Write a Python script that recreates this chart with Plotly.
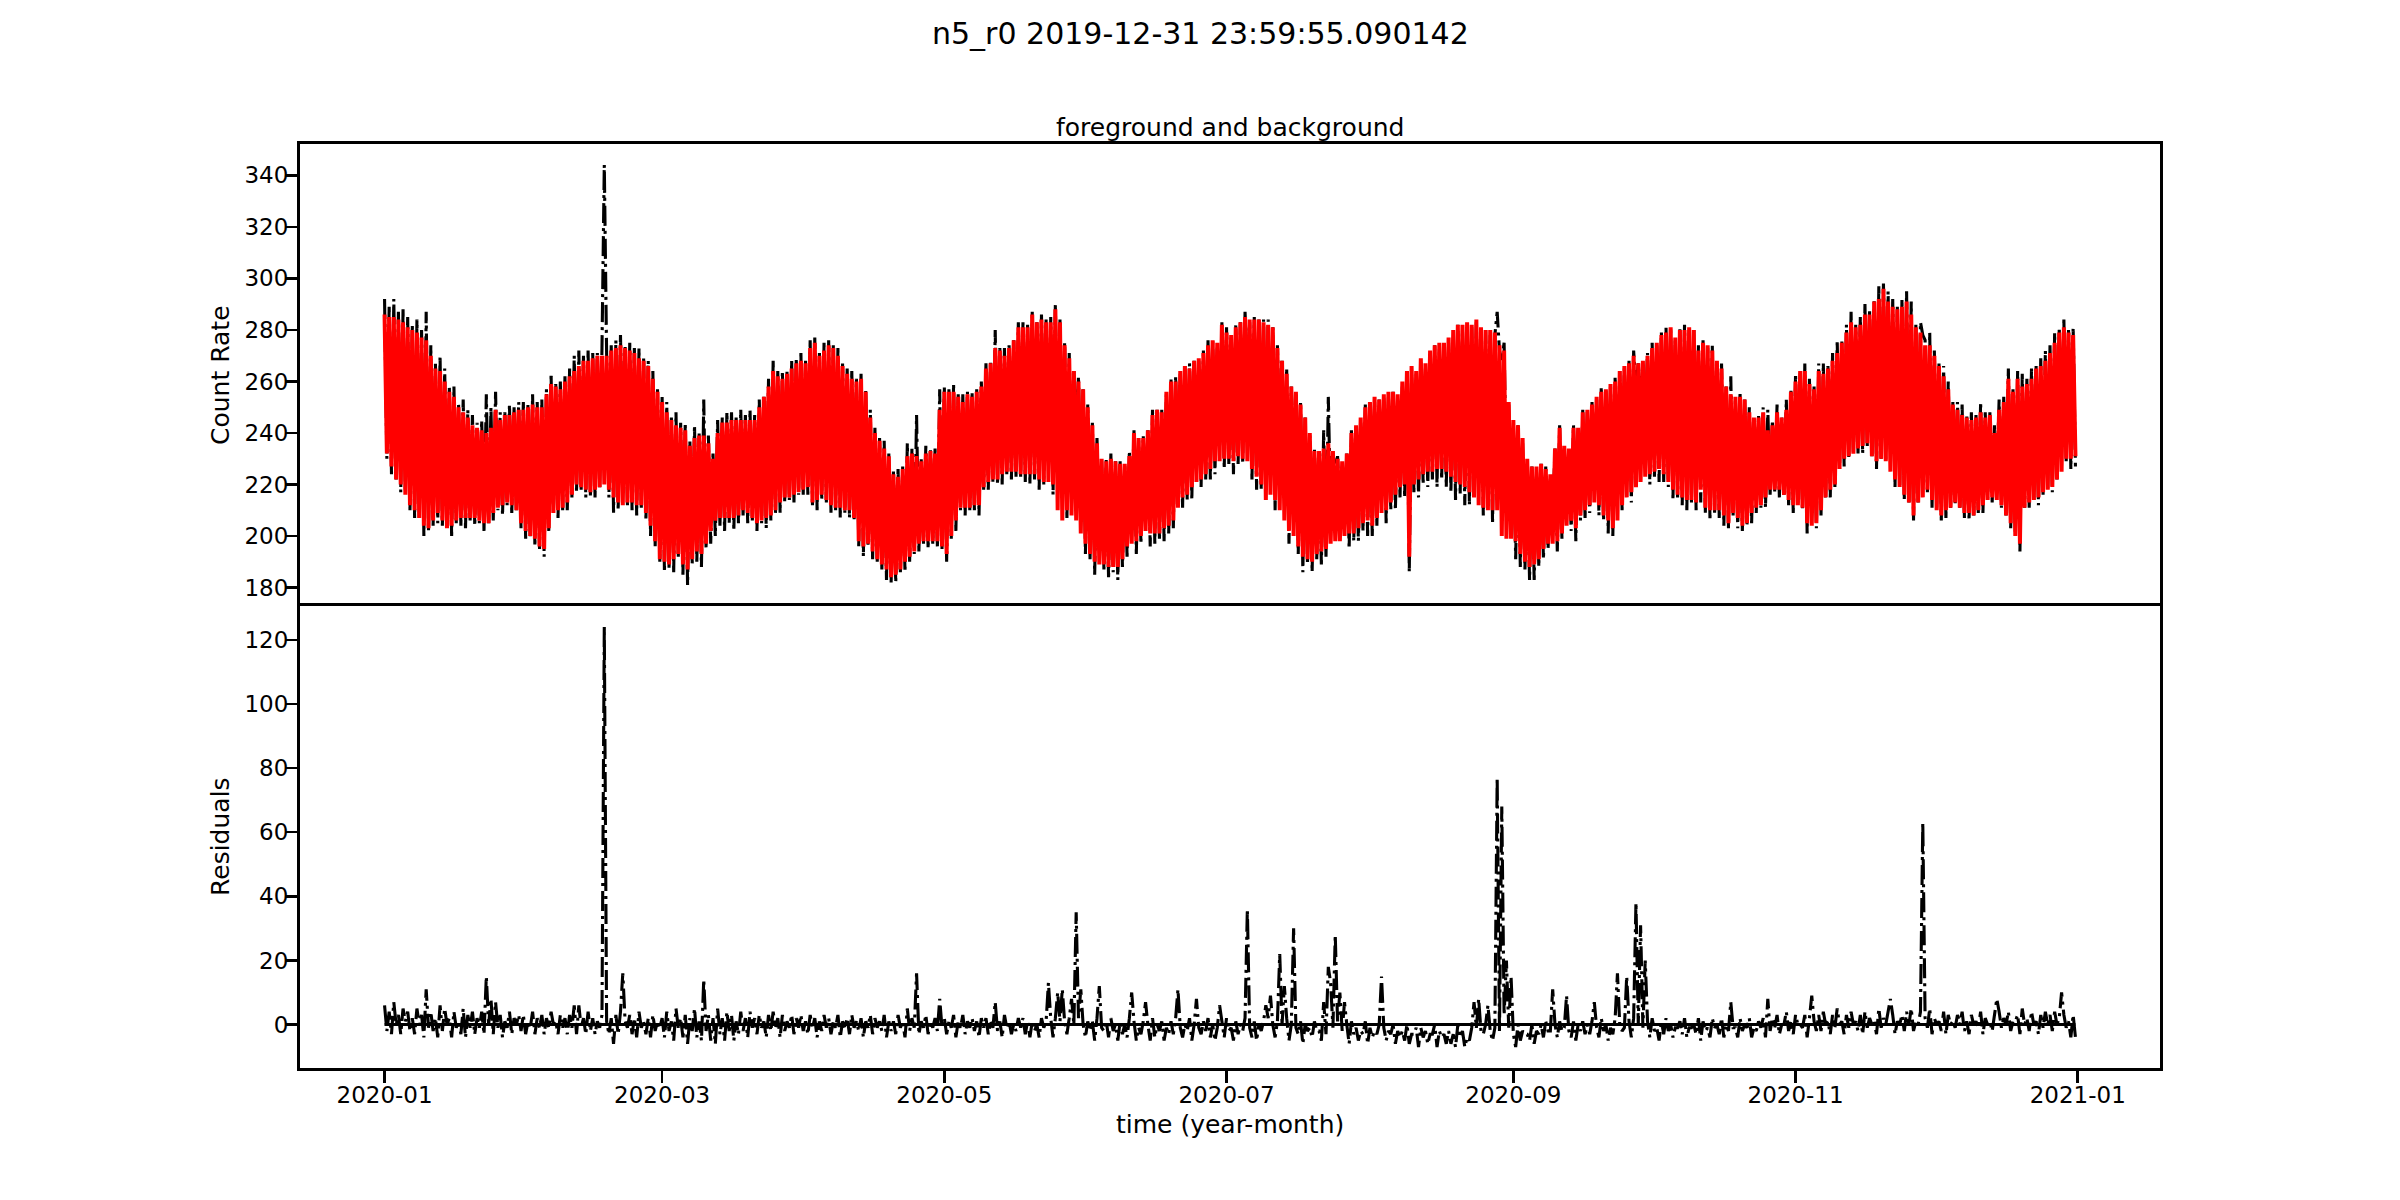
import pandas as pd
import plotly.graph_objects as go

# ---------------- data ----------------
START = "2019-12-31 23:59:55.090142"
SUPTITLE = "n5_r0 2019-12-31 23:59:55.090142"

# background model (red): daily upper and lower swing values, day 0..365
MODEL_HIGH = [
    286, 285, 285, 284, 283, 281, 280, 279, 277, 276,
    270, 265, 264, 260, 256, 254, 250, 248, 246, 243,
    242, 241, 240, 242, 249, 245, 247, 247, 248, 249,
    249, 250, 251, 250, 250, 255, 259, 258, 257, 260,
    262, 264, 266, 268, 268, 269, 270, 270, 270, 272,
    273, 274, 273, 272, 271, 269, 268, 266, 261, 256,
    252, 248, 245, 243, 242, 241, 235, 238, 239, 239,
    236, 230, 240, 244, 244, 245, 245, 245, 245, 245,
    245, 250, 254, 258, 264, 262, 261, 263, 265, 267,
    268, 267, 273, 275, 270, 272, 274, 273, 270, 266,
    263, 261, 260, 261, 256, 246, 240, 237, 234, 231,
    224, 223, 226, 231, 232, 231, 229, 232, 233, 232,
    249, 256, 256, 256, 254, 252, 255, 254, 256, 258,
    265, 267, 273, 272, 270, 273, 276, 281, 281, 281,
    286, 283, 284, 283, 283, 288, 283, 274, 269, 264,
    260, 257, 250, 243, 236, 230, 229, 230, 229, 228,
    228, 231, 240, 238, 238, 241, 247, 249, 248, 256,
    260, 260, 264, 266, 265, 268, 269, 271, 274, 276,
    275, 282, 279, 278, 281, 283, 285, 284, 284, 284,
    283, 282, 281, 273, 268, 263, 258, 256, 251, 246,
    240, 233, 233, 234, 236, 233, 230, 229, 232, 240,
    243, 246, 250, 252, 254, 253, 255, 256, 256, 255,
    260, 264, 266, 264, 269, 267, 272, 274, 275, 275,
    277, 280, 282, 282, 283, 282, 284, 281, 280, 280,
    279, 274, 272, 252, 245, 243, 238, 230, 227, 227,
    228, 226, 224, 234, 242, 235, 234, 242, 242, 248,
    249, 251, 254, 256, 257, 259, 260, 264, 266, 267,
    270, 267, 268, 270, 273, 275, 278, 279, 281, 277,
    280, 280, 281, 280, 272, 275, 274, 272, 268, 265,
    258, 255, 254, 254, 253, 248, 246, 246, 248, 241,
    243, 248, 246, 249, 256, 260, 264, 264, 259, 257,
    264, 263, 265, 268, 271, 275, 279, 283, 281, 282,
    286, 286, 291, 292, 296, 291, 289, 288, 289, 291,
    286, 281, 279, 274, 274, 270, 266, 262, 257, 251,
    249, 247, 246, 245, 246, 248, 246, 247, 240, 249,
    252, 261, 256, 261, 258, 259, 261, 265, 266, 268,
    271, 275, 279, 281, 279, 278,
]
MODEL_LOW = [
    232, 227, 222, 220, 216, 212, 210, 207, 204, 203,
    206, 209, 206, 203, 204, 206, 207, 207, 207, 207,
    206, 205, 205, 209, 211, 212, 213, 212, 210, 205,
    202, 200, 199, 196, 195, 203, 209, 210, 211, 213,
    216, 220, 219, 218, 217, 218, 219, 220, 218, 215,
    213, 212, 213, 213, 212, 212, 209, 204, 198, 191,
    190, 189, 191, 193, 189, 187, 191, 194, 193, 197,
    202, 206, 207, 207, 207, 207, 208, 210, 209, 207,
    205, 206, 207, 208, 210, 213, 215, 215, 216, 217,
    218, 219, 213, 214, 216, 214, 212, 211, 211, 210,
    210, 207, 198, 196, 197, 194, 191, 189, 187, 184,
    185, 187, 190, 192, 194, 197, 198, 198, 198, 198,
    196, 193, 200, 206, 211, 211, 211, 212, 212, 219,
    221, 222, 222, 224, 225, 225, 225, 224, 224, 224,
    224, 222, 221, 221, 220, 210, 206, 210, 208, 206,
    201, 197, 193, 190, 189, 189, 188, 188, 188, 191,
    196, 197, 198, 200, 202, 201, 201, 201, 203, 204,
    206, 211, 215, 216, 219, 221, 222, 224, 226, 229,
    229, 230, 230, 229, 231, 230, 229, 226, 223, 220,
    214, 216, 214, 210, 206, 202, 200, 196, 192, 191,
    190, 193, 194, 195, 197, 198, 198, 200, 201, 201,
    203, 205, 206, 204, 207, 209, 210, 213, 216, 219,
    220, 192, 220, 222, 224, 225, 225, 226, 226, 225,
    223, 221, 220, 219, 217, 215, 212, 211, 210, 210,
    210, 200, 199, 199, 198, 193, 190, 188, 189, 191,
    195, 197, 197, 198, 201, 204, 206, 203, 208, 210,
    212, 213, 212, 208, 206, 203, 206, 212, 215, 217,
    219, 221, 223, 224, 225, 226, 224, 221, 218, 216,
    215, 214, 214, 213, 218, 211, 210, 210, 210, 208,
    205, 209, 207, 204, 205, 209, 211, 212, 215, 218,
    218, 218, 216, 214, 212, 212, 211, 205, 204, 205,
    210, 215, 218, 220, 226, 230, 231, 232, 234, 235,
    236, 231, 229, 230, 229, 225, 222, 219, 216, 213,
    208, 213, 215, 218, 214, 210, 208, 210, 211, 213,
    211, 209, 209, 208, 210, 212, 214, 215, 214, 212,
    208, 205, 200, 197, 211, 213, 214, 215, 217, 218,
    219, 222, 225, 230, 230, 231,
]
# residuals (data - model) at the upper and lower swing samples
RESID_HIGH = [
    6, 4, 7, 3, 5, 4, 2, 5, 3, 11,
    4, 2, 6, 5, 2, 4, 1, 5, 3, 4,
    2, 4, 15, 8, 7, 3, 1, 4, 2, 3,
    3, 1, 4, 2, 3, 2, 4, 1, 3, 2,
    3, 6, 6, 2, 4, 2, 1, 3, 1, 2,
    3, 4, 1, 3, 2, 4, 1, 2, 3, 1,
    2, 4, 1, 5, 2, 3, 2, 5, 1, 14,
    3, 2, 5, 2, 4, 3, 1, 4, 2, 4,
    2, 3, 1, 3, 4, 2, 3, 1, 3, 2,
    3, 1, 3, 2, 1, 3, 2, 1, 3, 1,
    2, 3, 1, 2, 1, 3, 2, 1, 3, 1,
    1, 3, 1, 5, 2, 16, 1, 3, 1, 2,
    8, 2, 1, 3, 1, 3, 1, 2, 1, 2,
    2, 1, 7, 1, 3, 1, 0, 2, 2, 1,
    1, 0, 2, 1, 2, 2, 1, 1, 2, 0,
    2, 0, 1, 1, 2, -1, 1, 2, 0, 1,
    0, 2, 1, -1, 1, 0, 2, 0, 1, -1,
    1, 2, -1, 0, 2, 0, -1, 1, 2, 0,
    -1, 1, 2, -1, 1, 0, 2, -1, 1, 0,
    1, 2, 0, 1, 0, 2, 0, -1, 1, 0,
    -1, 1, -2, 7, 18, -1, 1, -2, 0, 1,
    -1, -2, 1, -1, -2, 0, -1, -2, 0, -2,
    -2, 0, -3, -1, -1, -2, -3, 0, -2, -3,
    -2, -3, 0, -2, -4, -1, -1, -2, 0, -2,
    -1, -2, 3, -1, -3, 0, -2, -3, 0, -2,
    0, 1, -2, 0, 1, -1, -2, 1, 0, 1,
    0, 1, -1, 2, 0, -1, 2, 0, -1, 1,
    2, 0, -1, 1, 2, -1, 1, 2, 0, -1,
    1, 2, -1, 0, 2, 1, -1, 2, 0, 2,
    0, 7, -1, 2, 0, 2, -1, 1, 2, 8,
    2, 3, 0, 4, 1, 3, 0, 3, 2, 1,
    3, 4, 1, 3, 5, 1, 3, 4, 1, 3,
    4, 2, 1, 5, 2, 4, 3, 1, 3, 4,
    5, 1, 4, 2, 5, 2, 1, 4, 3, 1,
    3, 4, 1, 3, 1, 4, 2, 1, 3, 4,
    2, 4, 1, 3, 5, 2, 4, 1, 3, 4,
    3, 4, 2, 3, 1, 3,
]
RESID_LOW = [
    -2, -3, 0, -3, 1, -2, -3, 0, -4, -1,
    -2, -4, -2, 0, -4, -1, -3, -4, -1, -3,
    -1, -3, 0, -3, -1, -4, -1, -3, 0, -2,
    -3, -1, -3, -1, -3, -1, 0, -3, -1, -3,
    -1, -3, -1, -3, -2, -3, -1, 124, -3, -6,
    -3, 16, -1, -3, -4, -1, -3, -4, -2, -1,
    -4, -2, -5, -1, -4, -6, -2, -4, -5, -2,
    -5, -6, -3, -5, -2, -5, -3, -2, -4, -1,
    -3, -1, -4, -2, -1, -4, -2, -1, -3, -1,
    -2, -3, -1, -4, -2, -1, -3, -1, -4, -1,
    -3, -1, -2, -4, -1, -3, -1, -2, -4, -2,
    -3, -1, -4, -2, -1, -3, -1, -3, -1, -2,
    -1, -3, -1, -4, -1, -3, -1, -2, -4, -1,
    -3, -1, -2, -4, -1, -3, -2, -1, -3, -4,
    -2, -4, -1, 13, -4, 10, 11, -3, 8, 35,
    11, -4, -2, -5, 12, -2, -4, -2, -5, -3,
    -4, 10, -5, -3, 7, -5, -4, -2, -5, -3,
    -3, 11, -4, -2, -5, 8, -3, -2, -4, -5,
    6, -4, -2, -5, -3, -2, 36, -4, -5, -2,
    6, 9, -4, 22, 12, -5, 30, -3, -6, -2,
    -4, -2, -5, -3, 13, 28, 10, 7, -6, -3,
    -5, -3, -6, -4, -3, 15, -5, -3, -6, -4,
    -5, -6, -3, -7, -4, -6, -3, -7, -4, -6,
    -6, -7, -4, -7, -5, 7, 8, -3, 6, -5,
    77, 68, 20, 15, -7, -5, -3, -5, -6, -3,
    -4, -2, 11, -4, -2, 9, -4, -5, -2, -3,
    -3, 7, -4, -2, -5, -3, 16, -2, 15, -4,
    38, 31, 20, -4, -2, -5, -3, -2, -4, -1,
    -3, -4, -1, -3, -5, -2, -4, -1, -3, -4,
    -2, -1, -4, -2, -1, -4, -2, -1, -4, -2,
    -1, -3, 0, -2, -3, 0, -1, -4, 9, -2,
    -2, 0, -3, -1, 0, -3, -1, 0, -2, -3,
    -1, 0, -3, -1, 0, 8, -3, 0, -2, 0,
    -2, 0, 63, -1, -3, 0, -2, -3, 0, -1,
    0, -2, -3, 0, -1, -3, 0, -2, 8, -1,
    0, -2, 1, -3, 0, -2, 0, -3, -1, 0,
    -2, 0, 10, -1, -4, -4,
]

X_TICKS = ["2020-01-01", "2020-03-01", "2020-05-01", "2020-07-01",
           "2020-09-01", "2020-11-01", "2021-01-01"]
X_TICK_TEXT = ["2020-01", "2020-03", "2020-05", "2020-07",
               "2020-09", "2020-11", "2021-01"]
Y1_TICKS = [180, 200, 220, 240, 260, 280, 300, 320, 340]
Y2_TICKS = [0, 20, 40, 60, 80, 100, 120]

# ---------------- assemble series ----------------
n = min(len(MODEL_HIGH), len(MODEL_LOW), len(RESID_HIGH), len(RESID_LOW))
model, resid = [], []
for i in range(n):
    model += [MODEL_HIGH[i], MODEL_LOW[i]]
    resid += [RESID_HIGH[i], RESID_LOW[i]]
data = [m + r for m, r in zip(model, resid)]
zeros = [0] * len(resid)

t0 = pd.Timestamp(START)
times = pd.DatetimeIndex([t0 + pd.Timedelta(hours=12 * k) for k in range(len(model))])
xs = list(times.strftime("%Y-%m-%d %H:%M:%S.%f"))

span = times[-1] - times[0]
xr = [(times[0] - 0.05 * span).strftime("%Y-%m-%d %H:%M:%S.%f"),
      (times[-1] + 0.05 * span).strftime("%Y-%m-%d %H:%M:%S.%f")]


def padded(vals):
    lo, hi = min(vals), max(vals)
    p = 0.05 * (hi - lo)
    return [lo - p, hi + p]


y1r = padded(model + data)
y2r = padded(resid + zeros)

# ---------------- figure ----------------
W, H = 2400, 1200
L, R, T, B = 300, 240, 144, 132
PW, PH = W - L - R, H - T - B
FONT = "DejaVu Sans"
LW = 3.1
SPINE = 2.6
DASHDOT = "20px,5px,3px,5px"

fig = go.Figure()
fig.add_trace(go.Scatter(x=xs, y=data, mode="lines", xaxis="x", yaxis="y",
                         line=dict(color="black", width=LW, dash=DASHDOT),
                         hoverinfo="skip"))
fig.add_trace(go.Scatter(x=xs, y=model, mode="lines", xaxis="x", yaxis="y",
                         line=dict(color="#ff0000", width=4.0),
                         hoverinfo="skip"))
fig.add_trace(go.Scatter(x=xs, y=resid, mode="lines", xaxis="x2", yaxis="y2",
                         line=dict(color="black", width=LW, dash=DASHDOT),
                         hoverinfo="skip"))
fig.add_trace(go.Scatter(x=xs, y=zeros, mode="lines", xaxis="x2", yaxis="y2",
                         line=dict(color="black", width=LW),
                         hoverinfo="skip"))

line_common = dict(showline=True, linecolor="black", linewidth=SPINE,
                   showgrid=False, zeroline=False, automargin=False)
tick_common = dict(tickcolor="black", tickwidth=SPINE, ticklen=12.5, ticks="outside",
                   tickfont=dict(family=FONT, size=23, color="black"))

fig.update_layout(
    width=W, height=H,
    margin=dict(l=L, r=R, t=T, b=B, pad=0),
    paper_bgcolor="white", plot_bgcolor="white",
    showlegend=False, hovermode=False,
    font=dict(family=FONT, color="black"),
    # top panel x-axis: only the top frame line, no ticks (shared x)
    xaxis=dict(domain=[0, 1], anchor="y", type="date", range=xr, side="top",
               mirror=False, showticklabels=False, ticks="", **line_common),
    yaxis=dict(domain=[0.5, 1], anchor="x", range=y1r, tickmode="array",
               tickvals=Y1_TICKS, mirror=True, ticklabelstandoff=-8,
               **line_common, **tick_common),
    xaxis2=dict(domain=[0, 1], anchor="y2", type="date", range=xr, tickmode="array",
                tickvals=X_TICKS, ticktext=X_TICK_TEXT, mirror=True,
                ticklabelstandoff=-8, **line_common, **tick_common),
    yaxis2=dict(domain=[0, 0.5], anchor="x2", range=y2r, tickmode="array",
                tickvals=Y2_TICKS, mirror=True, ticklabelstandoff=-8,
                **line_common, **tick_common),
)


def px_x(x):
    return (x - L) / PW


def px_y(y):
    return (H - B - y) / PH


ann = [
    dict(text=SUPTITLE, x=px_x(1200), y=px_y(34), size=30, angle=0),
    dict(text="foreground and background", x=0.5, y=px_y(128), size=25, angle=0),
    dict(text="Count Rate", x=px_x(220), y=0.75, size=25, angle=-90),
    dict(text="Residuals", x=px_x(220), y=0.25, size=25, angle=-90),
    dict(text="time (year-month)", x=0.5, y=px_y(1124), size=25, angle=0),
]
for a in ann:
    fig.add_annotation(text=a["text"], x=a["x"], y=a["y"], xref="paper", yref="paper",
                       xanchor="center", yanchor="middle", showarrow=False,
                       textangle=a["angle"],
                       font=dict(family=FONT, size=a["size"], color="black"))

fig.write_html("out.html", config={"displayModeBar": False, "staticPlot": True},
               post_script="document.body.style.margin='0';")
